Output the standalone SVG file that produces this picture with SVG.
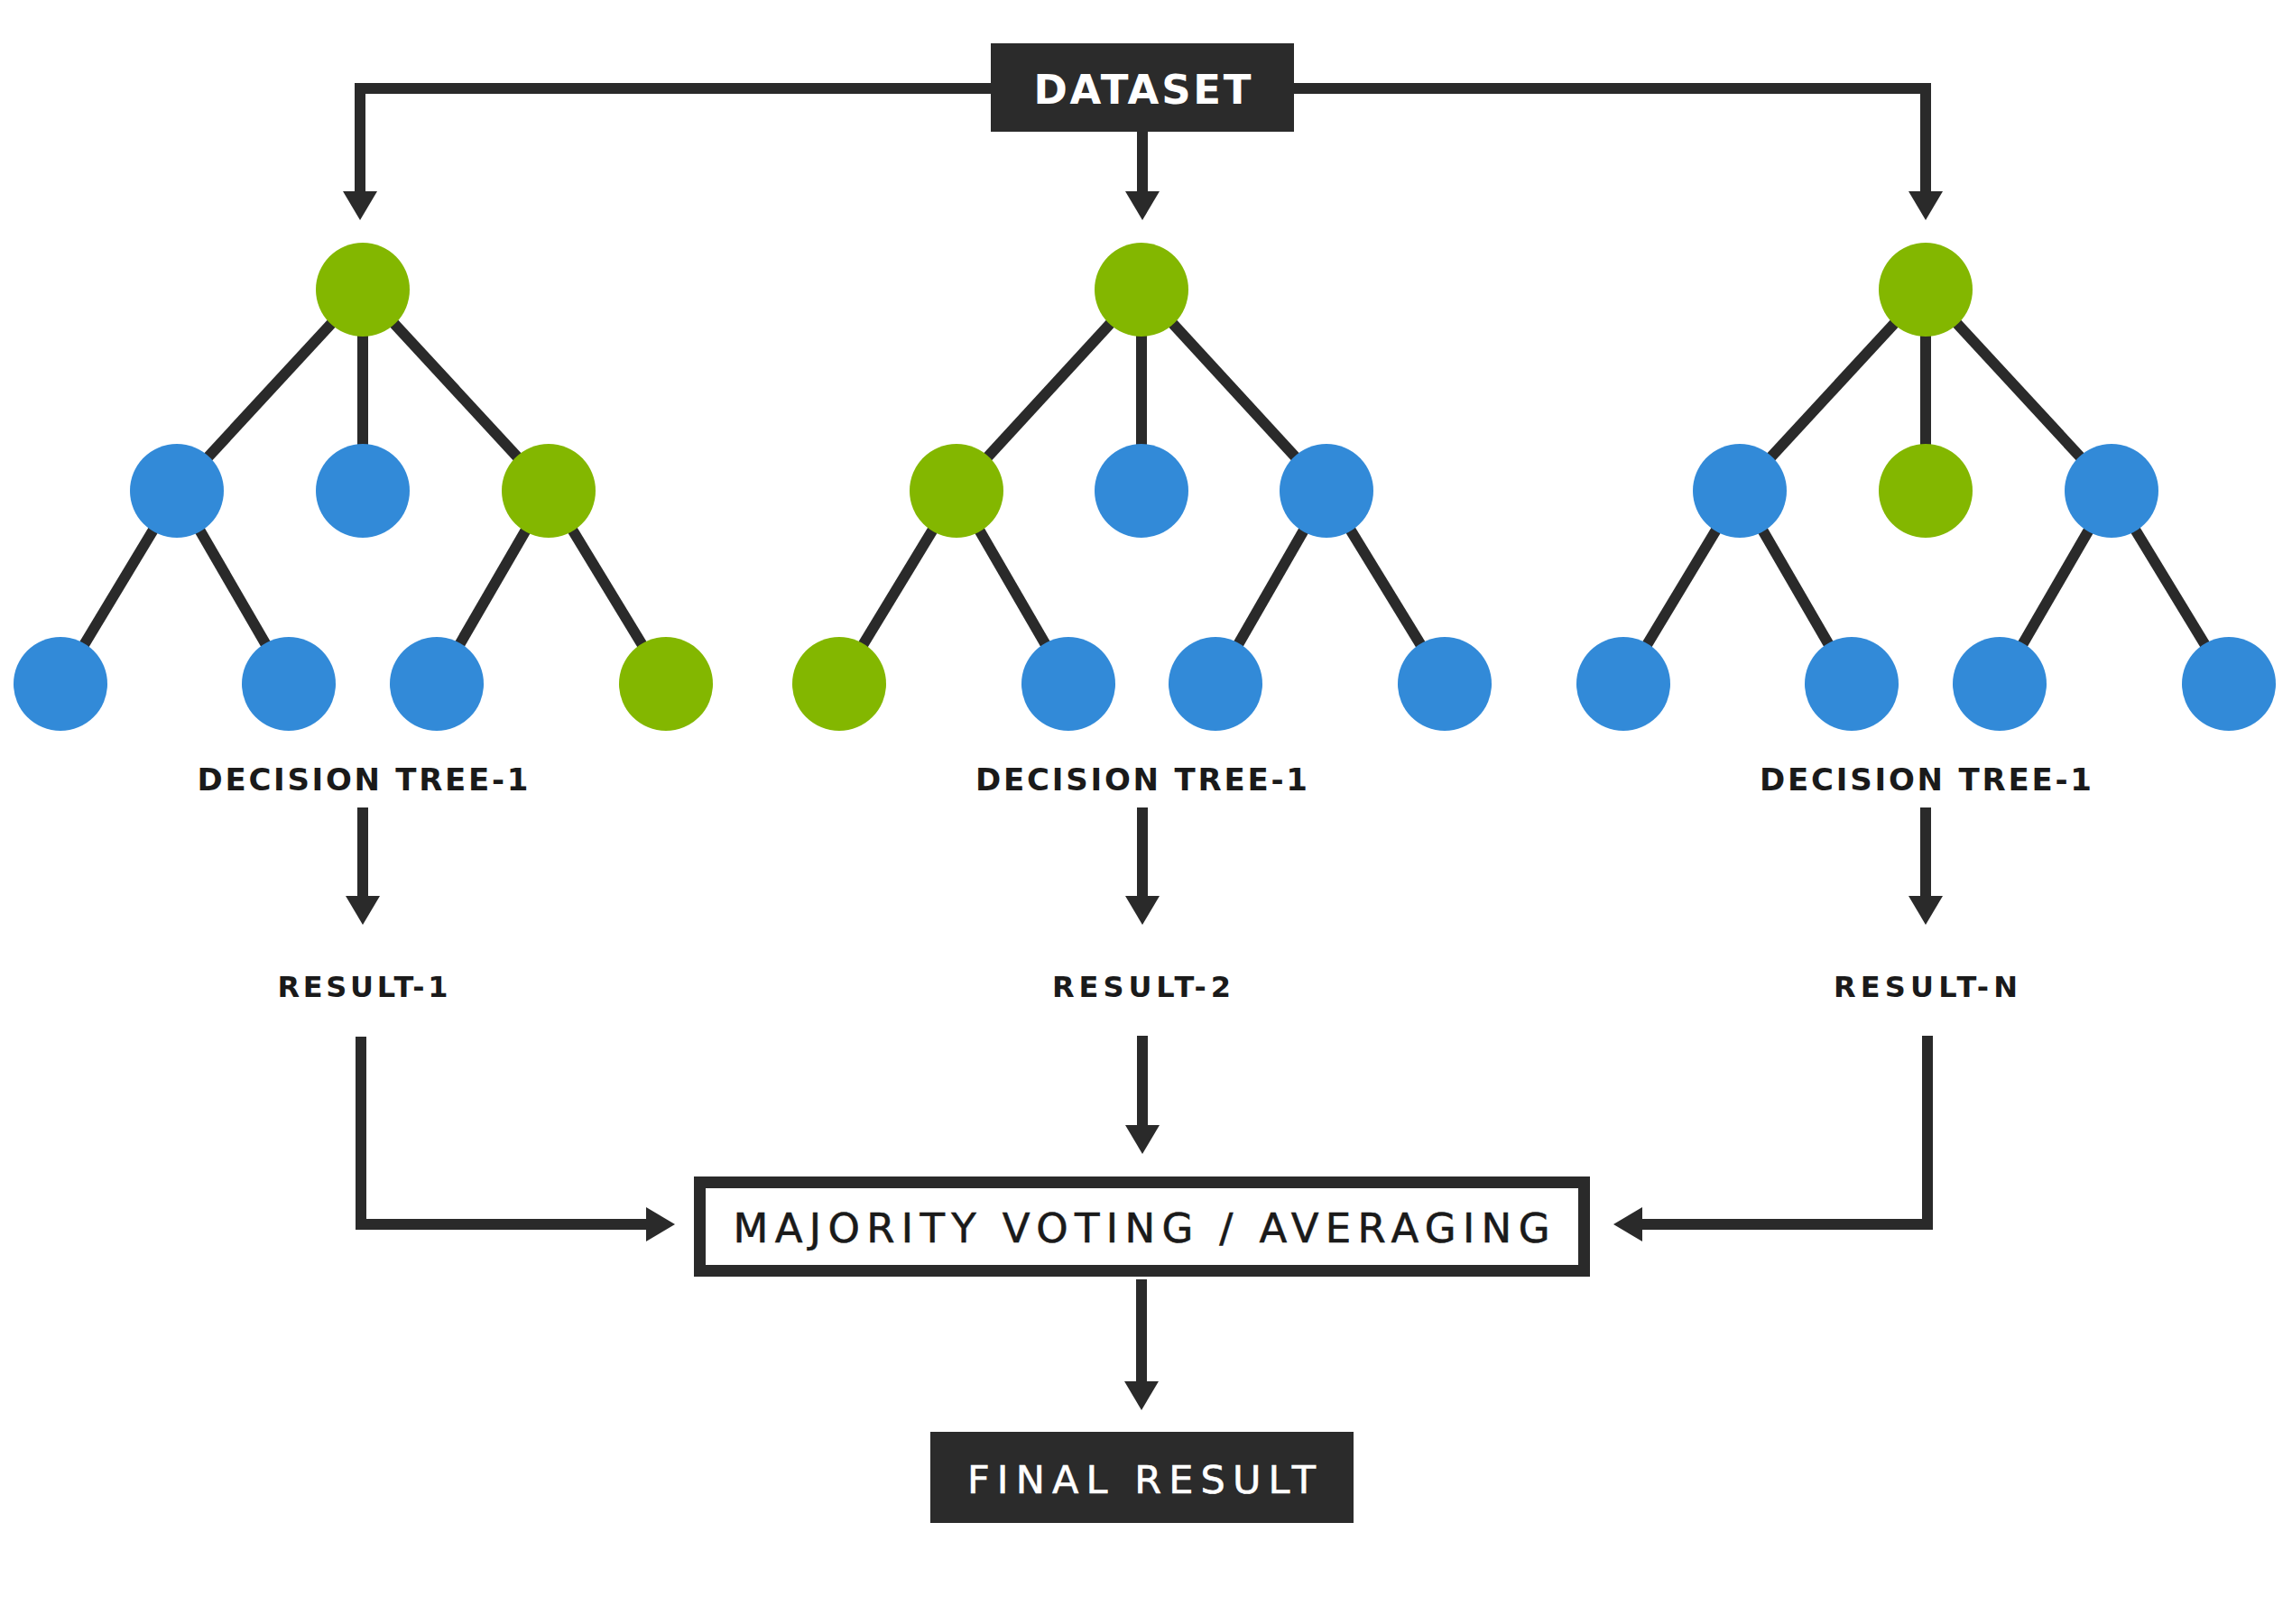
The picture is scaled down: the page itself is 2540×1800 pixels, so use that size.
<svg xmlns="http://www.w3.org/2000/svg" width="2540" height="1800" viewBox="0 0 2540 1800">
<defs>
<style>
.bg{fill:#ffffff}
.edge{stroke:#2a2a2a;stroke-width:12;fill:none;stroke-linecap:butt}
.conn{stroke:#2a2a2a;stroke-width:12;fill:none;stroke-linejoin:miter}
.g{fill:#83b700}
.b{fill:#328ad8}
.dark{fill:#2b2b2b}
.lbl{font-family:"DejaVu Sans","Liberation Sans",sans-serif;font-weight:700;fill:#1a1a1a;text-anchor:middle}
.wt{font-family:"DejaVu Sans","Liberation Sans",sans-serif;fill:#ffffff;text-anchor:middle}
.mv{font-family:"DejaVu Sans","Liberation Sans",sans-serif;font-weight:400;fill:#1a1a1a;stroke:#1a1a1a;stroke-width:0.6;text-anchor:middle}
</style>
<marker id="ah" markerUnits="userSpaceOnUse" markerWidth="34" markerHeight="40" refX="0" refY="19" orient="auto" viewBox="0 0 34 38">
<path d="M0,0 L32,19 L0,38 Z" fill="#2a2a2a"/>
</marker>
</defs>
<rect class="bg" x="0" y="0" width="2540" height="1800"/>

<g id="connectors">
<path class="conn" d="M1098,98 H399 V212" marker-end="url(#ah)"/>
<path class="conn" d="M1266,146 V212" marker-end="url(#ah)"/>
<path class="conn" d="M1434,98 H2134 V212" marker-end="url(#ah)"/>
<path class="conn" d="M402,895 V993" marker-end="url(#ah)"/>
<path class="conn" d="M1266,895 V993" marker-end="url(#ah)"/>
<path class="conn" d="M2134,895 V993" marker-end="url(#ah)"/>
<path class="conn" d="M400,1149 V1357 H716" marker-end="url(#ah)"/>
<path class="conn" d="M1266,1148 V1247" marker-end="url(#ah)"/>
<path class="conn" d="M2136,1148 V1357 H1820" marker-end="url(#ah)"/>
<path class="conn" d="M1265,1418 V1531" marker-end="url(#ah)"/>
</g>

<g id="dataset">
<rect class="dark" x="1098" y="48" width="336" height="98"/>
<text class="wt" x="1266" y="115" font-size="45" font-weight="700" textLength="241" lengthAdjust="spacing">DATASET</text>
</g>

<g id="tree1">
<line class="edge" x1="402" y1="321" x2="196" y2="544"/>
<line class="edge" x1="402" y1="321" x2="402" y2="544"/>
<line class="edge" x1="402" y1="321" x2="608" y2="544"/>
<line class="edge" x1="196" y1="544" x2="67" y2="758"/>
<line class="edge" x1="196" y1="544" x2="320" y2="758"/>
<line class="edge" x1="608" y1="544" x2="484" y2="758"/>
<line class="edge" x1="608" y1="544" x2="738" y2="758"/>
<circle class="g" cx="402" cy="321" r="52"/>
<circle class="b" cx="196" cy="544" r="52"/>
<circle class="b" cx="402" cy="544" r="52"/>
<circle class="g" cx="608" cy="544" r="52"/>
<circle class="b" cx="67" cy="758" r="52"/>
<circle class="b" cx="320" cy="758" r="52"/>
<circle class="b" cx="484" cy="758" r="52"/>
<circle class="g" cx="738" cy="758" r="52"/>
<text class="lbl" x="402" y="876" font-size="34" textLength="367" lengthAdjust="spacing">DECISION TREE-1</text>
</g>

<g id="tree2">
<line class="edge" x1="1265" y1="321" x2="1060" y2="544"/>
<line class="edge" x1="1265" y1="321" x2="1265" y2="544"/>
<line class="edge" x1="1265" y1="321" x2="1470" y2="544"/>
<line class="edge" x1="1060" y1="544" x2="930" y2="758"/>
<line class="edge" x1="1060" y1="544" x2="1184" y2="758"/>
<line class="edge" x1="1470" y1="544" x2="1347" y2="758"/>
<line class="edge" x1="1470" y1="544" x2="1601" y2="758"/>
<circle class="g" cx="1265" cy="321" r="52"/>
<circle class="g" cx="1060" cy="544" r="52"/>
<circle class="b" cx="1265" cy="544" r="52"/>
<circle class="b" cx="1470" cy="544" r="52"/>
<circle class="g" cx="930" cy="758" r="52"/>
<circle class="b" cx="1184" cy="758" r="52"/>
<circle class="b" cx="1347" cy="758" r="52"/>
<circle class="b" cx="1601" cy="758" r="52"/>
<text class="lbl" x="1265" y="876" font-size="34" textLength="368" lengthAdjust="spacing">DECISION TREE-1</text>
</g>

<g id="tree3">
<line class="edge" x1="2134" y1="321" x2="1928" y2="544"/>
<line class="edge" x1="2134" y1="321" x2="2134" y2="544"/>
<line class="edge" x1="2134" y1="321" x2="2340" y2="544"/>
<line class="edge" x1="1928" y1="544" x2="1799" y2="758"/>
<line class="edge" x1="1928" y1="544" x2="2052" y2="758"/>
<line class="edge" x1="2340" y1="544" x2="2216" y2="758"/>
<line class="edge" x1="2340" y1="544" x2="2470" y2="758"/>
<circle class="g" cx="2134" cy="321" r="52"/>
<circle class="b" cx="1928" cy="544" r="52"/>
<circle class="g" cx="2134" cy="544" r="52"/>
<circle class="b" cx="2340" cy="544" r="52"/>
<circle class="b" cx="1799" cy="758" r="52"/>
<circle class="b" cx="2052" cy="758" r="52"/>
<circle class="b" cx="2216" cy="758" r="52"/>
<circle class="b" cx="2470" cy="758" r="52"/>
<text class="lbl" x="2134" y="876" font-size="34" textLength="368" lengthAdjust="spacing">DECISION TREE-1</text>
</g>

<g id="result1">
<text class="lbl" x="402" y="1105" font-size="32" textLength="189" lengthAdjust="spacing">RESULT-1</text>
</g>
<g id="result2">
<text class="lbl" x="1265" y="1105" font-size="32" textLength="198" lengthAdjust="spacing">RESULT-2</text>
</g>
<g id="resultN">
<text class="lbl" x="2134" y="1105" font-size="32" textLength="204" lengthAdjust="spacing">RESULT-N</text>
</g>

<g id="voting">
<rect x="775.5" y="1310.5" width="980" height="98" fill="#ffffff" stroke="#2a2a2a" stroke-width="13"/>
<text class="mv" x="1265" y="1377" font-size="45" textLength="905" lengthAdjust="spacing">MAJORITY VOTING / AVERAGING</text>
</g>

<g id="final">
<rect class="dark" x="1031" y="1587" width="469" height="101"/>
<text class="wt" x="1265" y="1655" font-size="43" font-weight="400" stroke="#ffffff" stroke-width="0.6" textLength="386" lengthAdjust="spacing">FINAL RESULT</text>
</g>
</svg>
